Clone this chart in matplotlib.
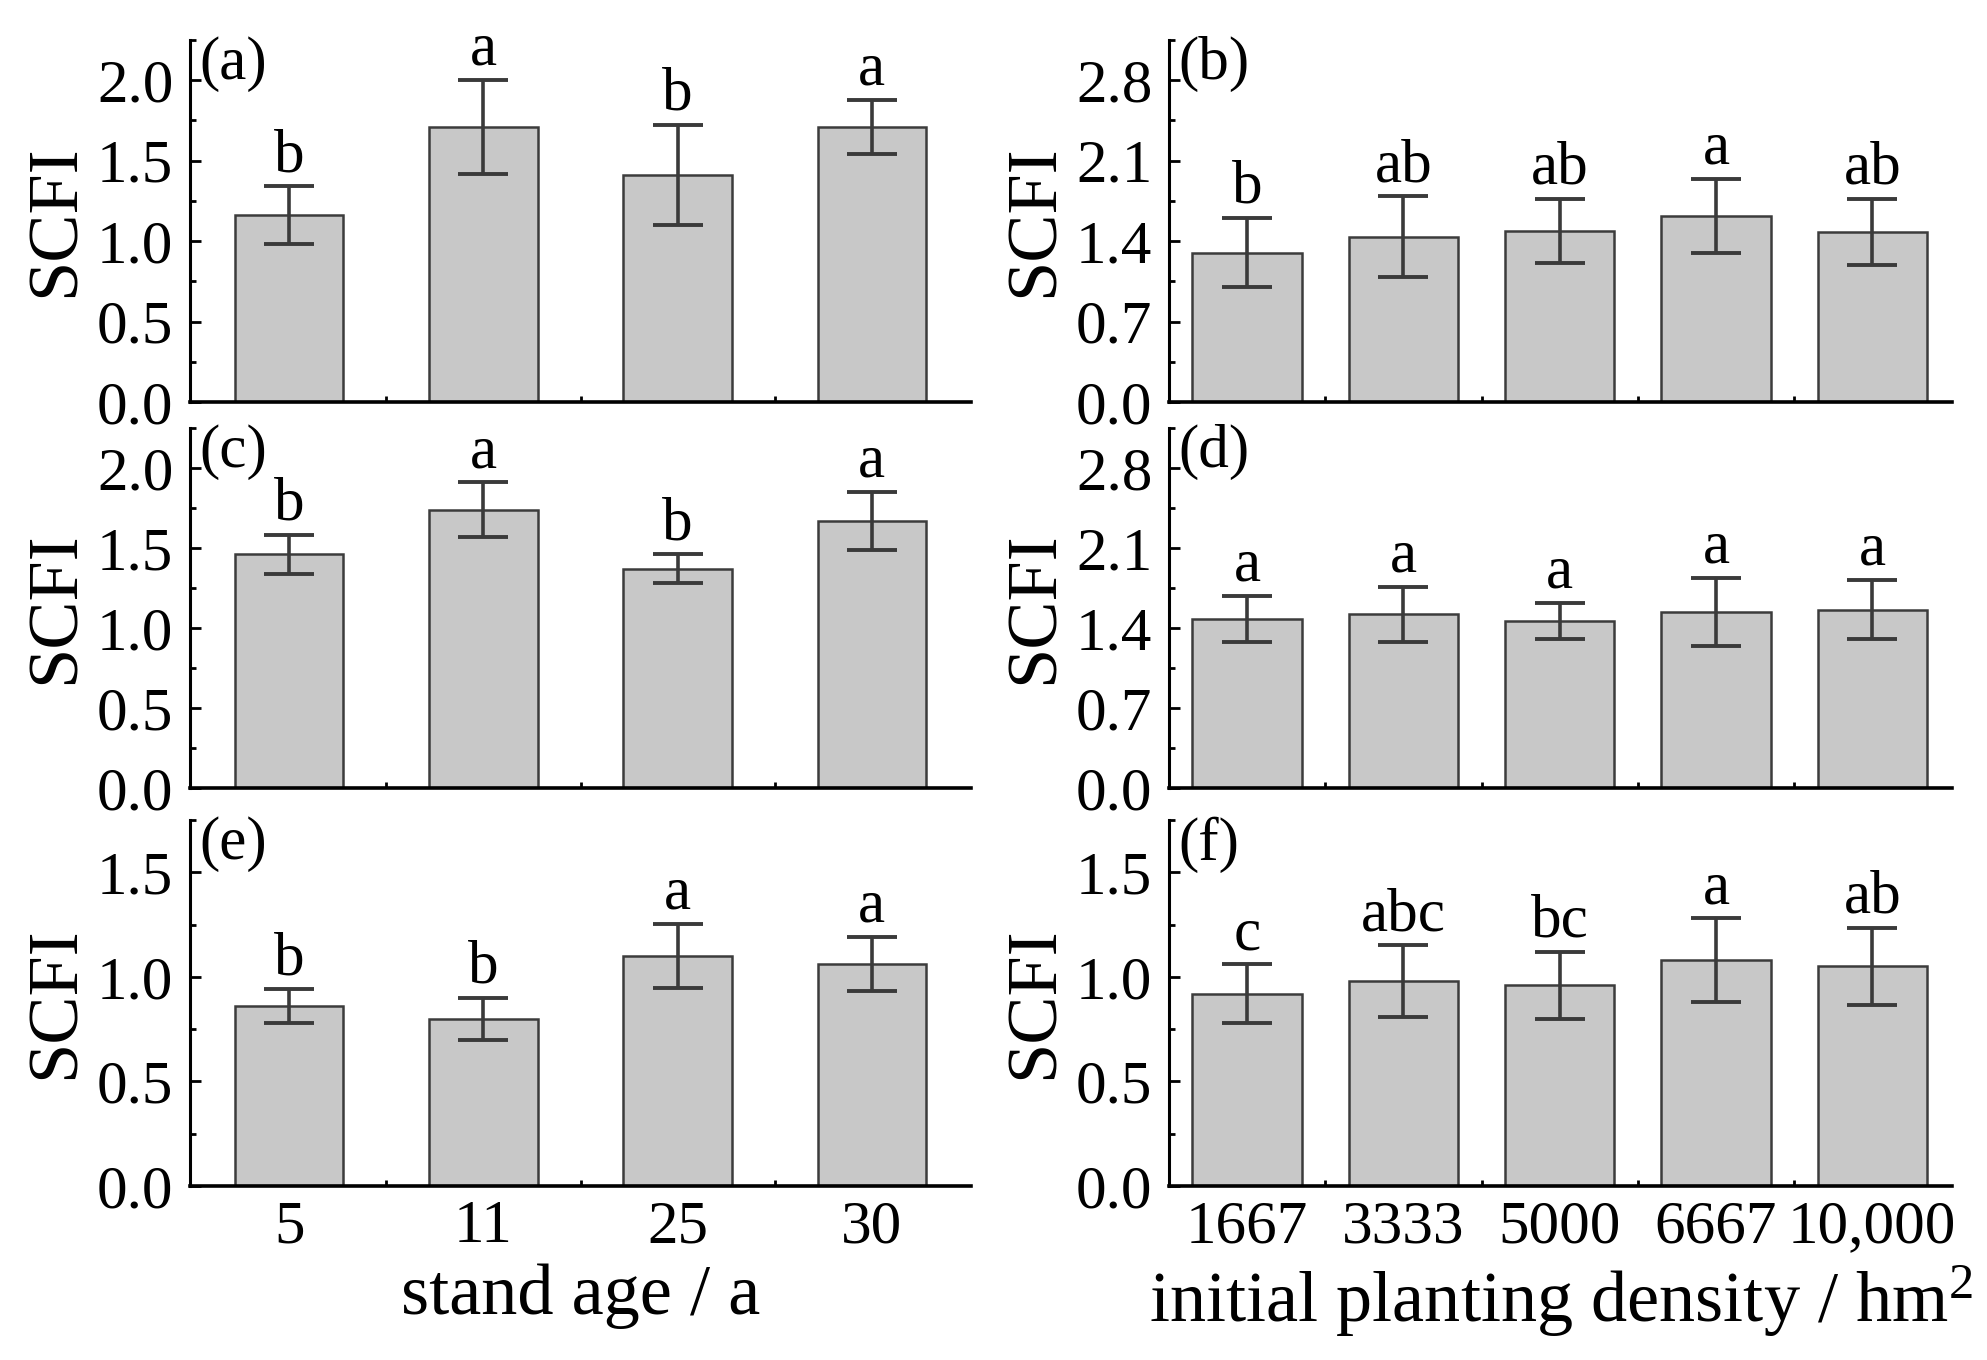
import matplotlib
matplotlib.use('Agg')
import matplotlib.pyplot as plt
from matplotlib.ticker import FixedLocator, MultipleLocator, FormatStrFormatter

plt.rcParams['font.family'] = ['Liberation Serif', 'DejaVu Serif']
plt.rcParams['mathtext.fontset'] = 'custom'
plt.rcParams['mathtext.rm'] = 'Liberation Serif'

# categories
age_labels = ['5', '11', '25', '30']
dens_labels = ['1667', '3333', '5000', '6667', '10,000']

# (a) stand age
a_mean = [1.16, 1.71, 1.41, 1.71]
a_err = [0.18, 0.29, 0.31, 0.17]
a_sig = ['b', 'a', 'b', 'a']
# (b) planting density
b_mean = [1.30, 1.44, 1.49, 1.62, 1.48]
b_err = [0.30, 0.35, 0.28, 0.32, 0.29]
b_sig = ['b', 'ab', 'ab', 'a', 'ab']
# (c) stand age
c_mean = [1.46, 1.74, 1.37, 1.67]
c_err = [0.12, 0.17, 0.09, 0.18]
c_sig = ['b', 'a', 'b', 'a']
# (d) planting density
d_mean = [1.48, 1.52, 1.46, 1.54, 1.56]
d_err = [0.20, 0.24, 0.16, 0.30, 0.26]
d_sig = ['a', 'a', 'a', 'a', 'a']
# (e) stand age
e_mean = [0.86, 0.80, 1.10, 1.06]
e_err = [0.08, 0.10, 0.155, 0.13]
e_sig = ['b', 'b', 'a', 'a']
# (f) planting density
f_mean = [0.92, 0.98, 0.96, 1.08, 1.05]
f_err = [0.14, 0.17, 0.16, 0.20, 0.185]
f_sig = ['c', 'abc', 'bc', 'a', 'ab']

ticks_age = [0.0, 0.5, 1.0, 1.5, 2.0]
ticks_dens = [0.0, 0.7, 1.4, 2.1, 2.8]
ticks_low = [0.0, 0.5, 1.0, 1.5]

fig = plt.figure(figsize=(19.87, 13.6), dpi=100)

W, H = 1987.0, 1360.0
col_x = [(190, 971), (1169, 1952)]
row_y = [(40, 402), (428, 788), (820, 1186)]

panels = [
    ('(a)', a_mean, a_err, a_sig, age_labels, ticks_age, 0.25, 2.25, 0, 0),
    ('(b)', b_mean, b_err, b_sig, dens_labels, ticks_dens, 0.35, 3.15, 1, 0),
    ('(c)', c_mean, c_err, c_sig, age_labels, ticks_age, 0.25, 2.25, 0, 1),
    ('(d)', d_mean, d_err, d_sig, dens_labels, ticks_dens, 0.35, 3.15, 1, 1),
    ('(e)', e_mean, e_err, e_sig, age_labels, ticks_low, 0.25, 1.75, 0, 2),
    ('(f)', f_mean, f_err, f_sig, dens_labels, ticks_low, 0.25, 1.75, 1, 2),
]

bar_color = '#c8c8c8'
edge_color = '#3c3c3c'

for tag, mean, err, sig, labels, yt, ymin_step, ytop, col, row in panels:
    x0, x1 = col_x[col]
    y0, y1 = row_y[row]
    ax = fig.add_axes([x0 / W, 1 - y1 / H, (x1 - x0) / W, (y1 - y0) / H])
    n = len(mean)
    xs = list(range(1, n + 1))
    width = 0.56 if n == 4 else 0.70
    ax.bar(xs, mean, width=width, color=bar_color, edgecolor=edge_color,
           linewidth=1.8, zorder=2)
    ax.errorbar(xs, mean, yerr=err, fmt='none', ecolor='#3a3a3a',
                elinewidth=2.6, capsize=18, capthick=2.8, zorder=3)
    for xi, m, e, s in zip(xs, mean, err, sig):
        ax.annotate(s, (xi, m + e), xytext=(0, 11), textcoords='offset points',
                    ha='center', va='baseline', fontsize=44)

    ax.set_xlim(0.49 if n == 4 else 0.5, n + 0.51)
    ax.set_ylim(0, ytop)
    ax.yaxis.set_major_locator(FixedLocator(yt))
    ax.yaxis.set_minor_locator(MultipleLocator(ymin_step))
    ax.yaxis.set_major_formatter(FormatStrFormatter('%.1f'))
    ax.set_xticks(xs)
    ax.xaxis.set_minor_locator(FixedLocator([i + 0.5 for i in xs[:-1]]))
    if row == 2:
        ax.set_xticklabels(labels)
    else:
        ax.set_xticklabels([])

    for side in ['top', 'right']:
        ax.spines[side].set_visible(False)
    ax.spines['left'].set_linewidth(2.2)
    ax.spines['bottom'].set_linewidth(2.6)
    ax.tick_params(axis='both', which='major', direction='in', length=8,
                   width=2, labelsize=44, colors='black')
    ax.tick_params(axis='both', which='minor', direction='in', length=4, width=2)
    ax.tick_params(axis='y', which='major', pad=12)
    ax.tick_params(axis='x', which='major', pad=10)

    ax.set_ylabel('SCFI', fontsize=52, labelpad=6)
    ax.text(0.012, 1.01, tag, transform=ax.transAxes, ha='left', va='top',
            fontsize=44)

    if row == 2 and col == 0:
        ax.set_xlabel('stand age / a', fontsize=52, labelpad=6)
    if row == 2 and col == 1:
        ax.set_xlabel('initial planting density / hm$\\mathregular{^2}$',
                      fontsize=52, labelpad=6)

fig.savefig('out.png', dpi=100)
